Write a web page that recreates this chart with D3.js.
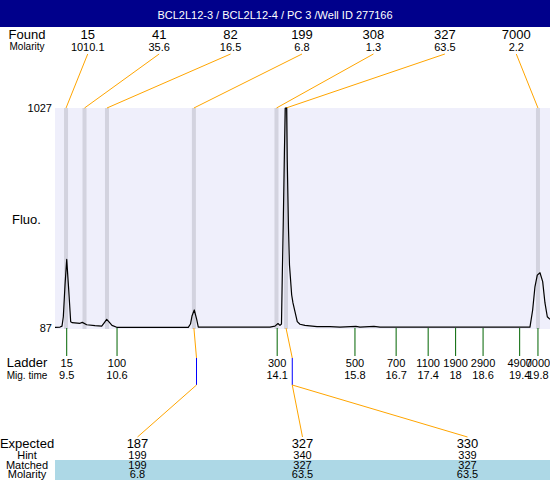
<!DOCTYPE html>
<html>
<head>
<meta charset="utf-8">
<script src="https://cdn.jsdelivr.net/npm/d3@7"></script>
<style>
  html, body { margin: 0; padding: 0; background: #ffffff; }
  svg { display: block; font-family: Arial, "Liberation Sans", sans-serif; }
</style>
</head>
<body>
<div id="chart"></div>
<script>
// ---------------- data ----------------
const title = "BCL2L12-3 / BCL2L12-4 / PC 3 /Well ID 277166";

const foundSizes    = ["15", "41", "82", "199", "308", "327", "7000"];
const foundMolarity = ["1010.1", "35.6", "16.5", "6.8", "1.3", "63.5", "2.2"];
const foundTimes    = [9.485, 9.889, 10.38, 12.28, 14.085, 14.293, 19.8];

const ladderSizes = ["15", "100", "300", "500", "700", "1100", "1900", "2900", "4900", "7000"];
const ladderTimes = [9.5, 10.6, 14.1, 15.8, 16.7, 17.4, 18, 18.6, 19.4, 19.8];
const ladderTimeLabels = ["9.5", "10.6", "14.1", "15.8", "16.7", "17.4", "18", "18.6", "19.4", "19.8"];

const markerTimes = [12.337, 14.43];     // blue expected-position markers
const markerFoundIndex = [3, 5];         // found peak linked to each marker

const expectedSizes    = ["187", "327", "330"];
const expectedMarker   = [0, 1, 1];
const hintSizes        = ["199", "340", "339"];
const matchedSizes     = ["199", "327", "327"];
const matchedMolarity  = ["6.8", "63.5", "63.5"];

const yTickValues = [87, 1027];

// electropherogram trace (migration time s, fluorescence)
const traceTimes = [9.244, 9.354, 9.397, 9.426, 9.463, 9.5, 9.544, 9.587, 9.616, 9.791,
  9.841, 9.937, 10.118, 10.265, 10.315, 10.374, 10.424, 10.49, 10.593, 12.157,
  12.205, 12.238, 12.288, 12.341, 12.376, 13.943, 14.052, 14.118, 14.161, 14.194,
  14.212, 14.233, 14.259, 14.277, 14.307, 14.32, 14.347, 14.369, 14.417, 14.445,
  14.489, 14.539, 14.598, 14.707, 14.97, 15.254, 15.473, 15.822, 15.909, 16.215,
  16.347, 19.625, 19.684, 19.734, 19.785, 19.844, 19.903, 19.953, 20.004, 20.063];
const traceValues = [90, 91, 95, 135, 271, 380, 249, 114, 110, 107,
  111, 101, 97, 95, 108, 124, 113, 98, 90, 90,
  104, 138, 164, 124, 91, 91, 95, 106, 98, 104,
  313, 536, 848, 1027, 1027, 805, 514, 356, 228, 194,
  157, 114, 103, 98, 93, 93, 91, 94, 91, 94,
  91, 91, 164, 263, 313, 323, 285, 194, 135, 124];

// ---------------- drawing ----------------
const W = 550, H = 480;
const svg = d3.select("#chart").append("svg").attr("width", W).attr("height", H);

const x = d3.scaleLinear().domain(d3.extent(traceTimes)).range([55, 550]);
const y = d3.scaleLinear().domain([87, 1027]).range([328, 108]);

const labelX = 27;
const ORANGE = "#FFA500";

// title bar
svg.append("rect").attr("x", 0).attr("y", 0).attr("width", W).attr("height", 27).attr("fill", "#00008B");
svg.append("text").attr("x", 275).attr("y", 19).attr("text-anchor", "middle")
  .attr("fill", "#fff").attr("font-size", 11).text(title);

// Found row
svg.append("text").attr("x", labelX).attr("y", 39).attr("text-anchor", "middle").attr("font-size", 13).text("Found");
svg.append("text").attr("x", labelX).attr("y", 50).attr("text-anchor", "middle").attr("font-size", 10).text("Molarity");

const foundCol = d3.scaleBand().domain(d3.range(foundSizes.length)).range([52, 552]);
const fcx = i => foundCol(i) + foundCol.bandwidth() / 2;

svg.selectAll(".fsize").data(foundSizes).join("text")
  .attr("x", (d, i) => fcx(i)).attr("y", 39).attr("text-anchor", "middle").attr("font-size", 13).text(d => d);
svg.selectAll(".fmol").data(foundMolarity).join("text")
  .attr("x", (d, i) => fcx(i)).attr("y", 51).attr("text-anchor", "middle").attr("font-size", 11).text(d => d);

// plot background
const [x0, x1] = x.range();
svg.append("rect").attr("x", x0).attr("y", y(1027)).attr("width", x1 - x0).attr("height", y(87) - y(1027) + 1)
  .attr("fill", "#EFEFFB");

// found peak bands
svg.selectAll(".band").data(foundTimes).join("rect")
  .attr("x", d => x(d) - 2).attr("y", y(1027)).attr("width", 4).attr("height", y(87) - y(1027) + 1)
  .attr("fill", "#D3D3DF");

// connectors found label -> band
svg.selectAll(".fline").data(foundTimes).join("line")
  .attr("x1", (d, i) => fcx(i)).attr("y1", 54).attr("x2", d => x(d)).attr("y2", y(1027))
  .attr("stroke", ORANGE).attr("stroke-width", 1);

// y labels
svg.selectAll(".ytick").data(yTickValues).join("text")
  .attr("x", 52).attr("y", d => y(d) + 4).attr("text-anchor", "end").attr("font-size", 11).text(d => d);
svg.append("text").attr("x", 12).attr("y", 224).attr("font-size", 13).text("Fluo.");

// trace
const line = d3.line().x((d, i) => x(traceTimes[i])).y(d => y(d));
svg.append("path").datum(traceValues).attr("d", line)
  .attr("fill", "none").attr("stroke", "#000").attr("stroke-width", 1.2).attr("stroke-linejoin", "round");

// ladder ticks
svg.selectAll(".ltick").data(ladderTimes).join("line")
  .attr("x1", d => x(d)).attr("x2", d => x(d)).attr("y1", y(87)).attr("y2", 356)
  .attr("stroke", "#006400").attr("stroke-width", 1);

svg.append("text").attr("x", labelX).attr("y", 367).attr("text-anchor", "middle").attr("font-size", 13).text("Ladder");
svg.append("text").attr("x", labelX).attr("y", 379).attr("text-anchor", "middle").attr("font-size", 10).text("Mig. time");
svg.selectAll(".lsize").data(ladderSizes).join("text")
  .attr("x", (d, i) => x(ladderTimes[i])).attr("y", 367).attr("text-anchor", "middle").attr("font-size", 11).text(d => d);
svg.selectAll(".ltime").data(ladderTimeLabels).join("text")
  .attr("x", (d, i) => x(ladderTimes[i])).attr("y", 379).attr("text-anchor", "middle").attr("font-size", 11).text(d => d);

// band -> marker connectors
svg.selectAll(".mline").data(markerTimes).join("line")
  .attr("x1", (d, i) => x(foundTimes[markerFoundIndex[i]])).attr("y1", y(87))
  .attr("x2", d => x(d)).attr("y2", 358)
  .attr("stroke", ORANGE).attr("stroke-width", 1);

// blue markers
svg.selectAll(".marker").data(markerTimes).join("line")
  .attr("x1", d => x(d)).attr("x2", d => x(d)).attr("y1", 358).attr("y2", 385)
  .attr("stroke", "#0000FF").attr("stroke-width", 1);

// expected table
const expCol = d3.scaleBand().domain(d3.range(expectedSizes.length)).range([55, 550]);
const ecx = i => expCol(i) + expCol.bandwidth() / 2;

svg.append("rect").attr("x", 55).attr("y", 460).attr("width", 495).attr("height", 20).attr("fill", "#ADD8E6");

svg.selectAll(".eline").data(expectedMarker).join("line")
  .attr("x1", d => x(markerTimes[d])).attr("y1", 385)
  .attr("x2", (d, i) => ecx(i)).attr("y2", 437)
  .attr("stroke", ORANGE).attr("stroke-width", 1);

svg.append("text").attr("x", labelX).attr("y", 448).attr("text-anchor", "middle").attr("font-size", 13).text("Expected");
svg.append("text").attr("x", labelX).attr("y", 459).attr("text-anchor", "middle").attr("font-size", 11).text("Hint");
svg.append("text").attr("x", labelX).attr("y", 469).attr("text-anchor", "middle").attr("font-size", 11).text("Matched");
svg.append("text").attr("x", labelX).attr("y", 478).attr("text-anchor", "middle").attr("font-size", 11).text("Molarity");

const rows = [
  { vals: expectedSizes, yy: 448, fs: 13 },
  { vals: hintSizes, yy: 459, fs: 11 },
  { vals: matchedSizes, yy: 469, fs: 11 },
  { vals: matchedMolarity, yy: 478, fs: 11 }
];
rows.forEach(r => {
  svg.append("g").selectAll("text").data(r.vals).join("text")
    .attr("x", (d, i) => ecx(i)).attr("y", r.yy).attr("text-anchor", "middle")
    .attr("font-size", r.fs).text(d => d);
});
</script>
</body>
</html>
